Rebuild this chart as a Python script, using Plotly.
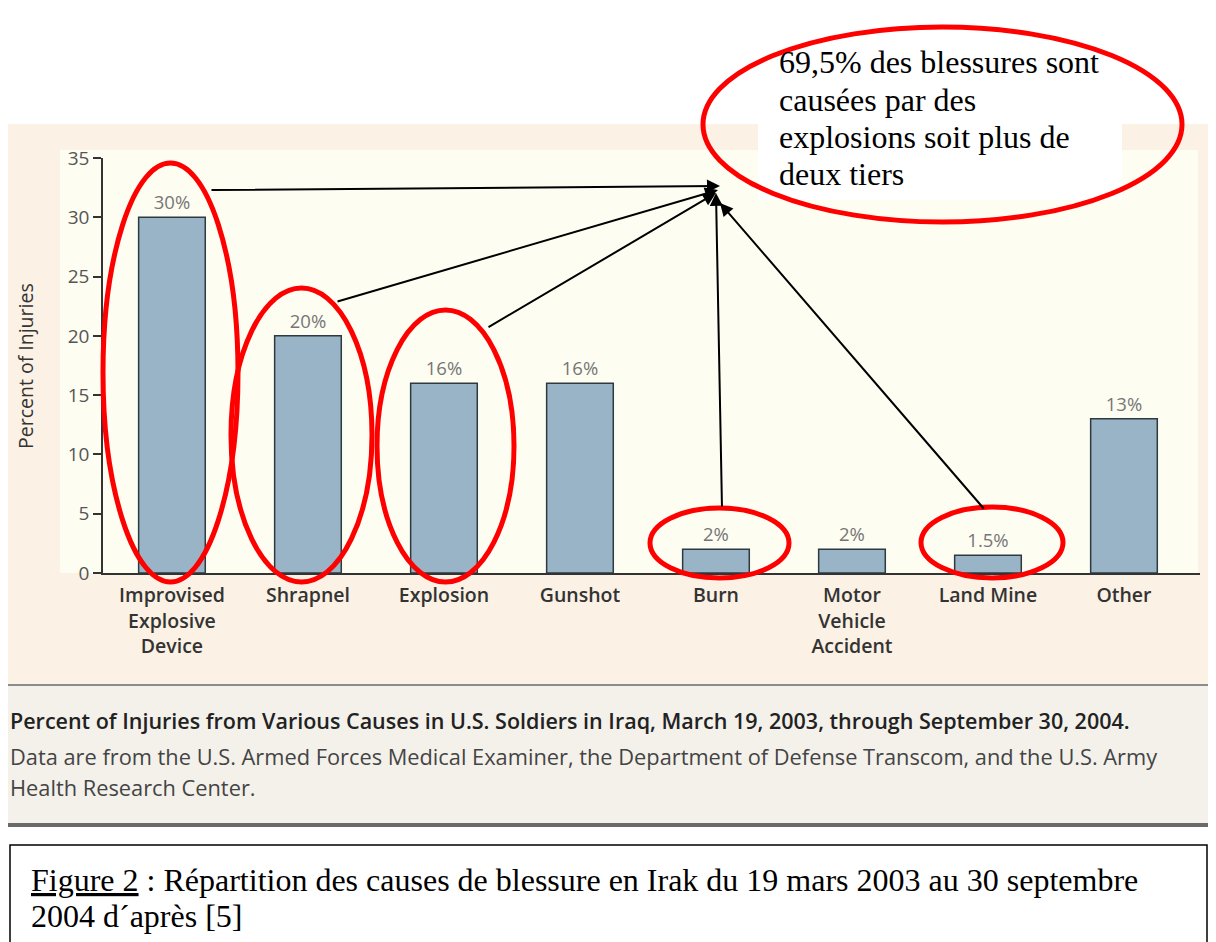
import plotly.graph_objects as go

W, H = 1216, 942
OFF = 8  # page offset of the plot div

categories = ["Improvised<br>Explosive<br>Device", "Shrapnel", "Explosion", "Gunshot",
              "Burn", "Motor<br>Vehicle<br>Accident", "Land Mine", "Other"]
values = [30, 20, 16, 16, 2, 2, 1.5, 13]
value_labels = ["30%", "20%", "16%", "16%", "2%", "2%", "1.5%", "13%"]
y_ticks = [0, 5, 10, 15, 20, 25, 30, 35]

caption_bold = "Percent of Injuries from Various Causes in U.S. Soldiers in Iraq, March 19, 2003, through September 30, 2004."
caption_l2 = "Data are from the U.S. Armed Forces Medical Examiner, the Department of Defense Transcom, and the U.S. Army"
caption_l3 = "Health Research Center."
note_lines = ["69,5% des blessures sont", "causées par des", "explosions soit plus de", "deux tiers"]
fig_caption_lines = ["<u>Figure 2</u> : Répartition des causes de blessure en Irak du 19 mars 2003 au 30 septembre",
                     "2004 d´après [5]"]


def px(x):
    return (x - OFF) / W


def py(y):
    return 1 - (y - OFF) / H


SANS = "'Open Sans', Lato, sans-serif"
SERIF = "'Liberation Serif', 'Times New Roman', serif"

fig = go.Figure()
fig.add_trace(go.Bar(
    x=categories, y=values, width=0.49,
    marker=dict(color="#99B4C6", line=dict(color="#2E3A40", width=1.5)),
    text=value_labels, textposition="outside", cliponaxis=False,
    textfont=dict(family=SANS, size=18.5, color="#767676"),
    hoverinfo="skip",
))

shapes = []
# panel backgrounds
shapes.append(dict(type="rect", xref="paper", yref="paper", x0=px(8), x1=px(1230), y0=py(124), y1=py(685),
                   fillcolor="#FBF1E4", line=dict(width=0), layer="below"))
shapes.append(dict(type="rect", xref="paper", yref="paper", x0=px(60), x1=px(1198), y0=py(150), y1=py(573),
                   fillcolor="#FEFDF2", line=dict(width=0), layer="below"))
shapes.append(dict(type="rect", xref="paper", yref="paper", x0=px(8), x1=px(1230), y0=py(685), y1=py(825),
                   fillcolor="#F4F1EB", line=dict(width=0), layer="below"))
shapes.append(dict(type="line", xref="paper", yref="paper", x0=px(8), x1=px(1230), y0=py(685), y1=py(685),
                   line=dict(color="#8C8C8C", width=2), layer="below"))
shapes.append(dict(type="line", xref="paper", yref="paper", x0=px(8), x1=px(1230), y0=py(825), y1=py(825),
                   line=dict(color="#6A6A6A", width=4), layer="below"))
# white text box
shapes.append(dict(type="rect", xref="paper", yref="paper", x0=px(758), x1=px(1122), y0=py(30), y1=py(200),
                   fillcolor="white", line=dict(width=0), layer="below"))
# figure caption box
shapes.append(dict(type="rect", xref="paper", yref="paper", x0=px(10), x1=px(1207), y0=py(845), y1=py(990),
                   fillcolor="rgba(0,0,0,0)", line=dict(color="black", width=1.5), layer="above"))
# red ellipses
for (x0, x1, y0, y1) in [(703, 1182, 27, 222), (103, 238, 163, 582), (231, 372, 288, 582),
                         (377, 514, 310, 582), (650, 789, 508, 578), (921, 1063, 507, 578)]:
    shapes.append(dict(type="circle", xref="paper", yref="paper", x0=px(x0), x1=px(x1), y0=py(y0), y1=py(y1),
                       line=dict(color="#FF0000", width=5), layer="above"))

annotations = []
# arrows (head, tail) in pixels
for (hx, hy, tx, ty) in [(720, 186, 210, 190), (718, 190, 336, 302), (716, 193, 487, 328),
                         (716, 193, 722, 508), (720, 203, 985, 510)]:
    annotations.append(dict(xref="paper", yref="paper", x=px(hx), y=py(hy), ax=tx - hx, ay=ty - hy,
                            axref="pixel", ayref="pixel", text="", showarrow=True,
                            arrowhead=2, arrowsize=1.3, arrowwidth=2, arrowcolor="black", standoff=0))
for line, yc in zip(note_lines, [62, 100, 137, 174]):
    annotations.append(dict(xref="paper", yref="paper", x=px(777), y=py(yc), xanchor="left", yanchor="middle",
                            text=line, showarrow=False, align="left",
                            font=dict(family=SERIF, size=32, color="black")))
annotations.append(dict(xref="paper", yref="paper", x=px(25), y=py(366), xanchor="center", yanchor="middle",
                        text="Percent of Injuries", textangle=-90, showarrow=False,
                        font=dict(family=SANS, size=19.5, color="#333333")))
annotations.append(dict(xref="paper", yref="paper", x=px(8), y=py(720), xanchor="left", yanchor="middle",
                        text=caption_bold, showarrow=False,
                        font=dict(family=SANS, size=21.5, color="#222222", weight=600)))
annotations.append(dict(xref="paper", yref="paper", x=px(8), y=py(756), xanchor="left", yanchor="middle",
                        text=caption_l2, showarrow=False,
                        font=dict(family=SANS, size=21.8, color="#444444")))
annotations.append(dict(xref="paper", yref="paper", x=px(8), y=py(787), xanchor="left", yanchor="middle",
                        text=caption_l3, showarrow=False,
                        font=dict(family=SANS, size=21.8, color="#444444")))
for line, yc in zip(fig_caption_lines, [880, 916]):
    annotations.append(dict(xref="paper", yref="paper", x=px(29), y=py(yc), xanchor="left", yanchor="middle",
                            text=line, showarrow=False, align="left",
                            font=dict(family=SERIF, size=32, color="black")))

fig.update_layout(
    template="none",
    width=W, height=H, autosize=False,
    margin=dict(l=0, r=0, t=0, b=0, pad=0, autoexpand=False),
    paper_bgcolor="white", plot_bgcolor="rgba(0,0,0,0)",
    showlegend=False, bargap=0.5,
    shapes=shapes, annotations=annotations,
    xaxis=dict(domain=[px(103), px(1200)], range=[-0.507, 7.559], showline=True, linecolor="#333333",
               linewidth=1.5, ticks="", showgrid=False, zeroline=False, ticklabelstandoff=4, automargin=False,
               tickfont=dict(family=SANS, size=19.5, color="#333333", weight=600)),
    yaxis=dict(domain=[py(573), py(158)], range=[0, 35], tickvals=y_ticks, showline=True, automargin=False,
               linecolor="#333333", linewidth=1.5, ticks="outside", ticklen=8, tickcolor="#333333",
               tickwidth=1.5, showgrid=False, zeroline=False,
               tickfont=dict(family=SANS, size=19, color="#555555")),
)

fig.write_html("out.html")
